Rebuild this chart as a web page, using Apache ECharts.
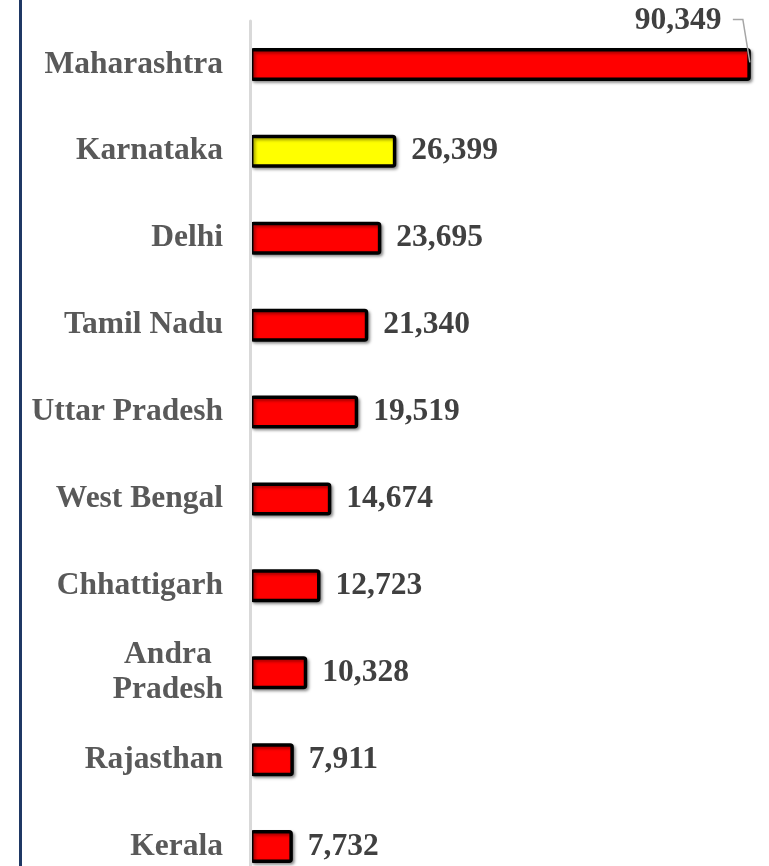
<!DOCTYPE html>
<html>
<head>
<meta charset="utf-8">
<script src="https://cdn.jsdelivr.net/npm/echarts@6/dist/echarts.min.js"></script>
<style>
html,body{margin:0;padding:0;background:#fff;overflow:hidden;}
#chart{width:769px;height:866px;}
</style>
</head>
<body>
<div id="chart"></div>
<script>
const categories = ['Maharashtra','Karnataka','Delhi','Tamil Nadu','Uttar Pradesh','West Bengal','Chhattigarh','Andra Pradesh','Rajasthan','Kerala'];
const values = [90349, 26399, 23695, 21340, 19519, 14674, 12723, 10328, 7911, 7732];
const barColors = ['#FF0000','#FFFF00','#FF0000','#FF0000','#FF0000','#FF0000','#FF0000','#FF0000','#FF0000','#FF0000'];

const FONT = 'Liberation Serif';
const FS = 31.5;
const chart = echarts.init(document.getElementById('chart'));

chart.setOption({
  animation: false,
  backgroundColor: '#ffffff',
  grid: { left: 250, right: 9, top: 21, height: 869, containLabel: false, outerBoundsMode: 'none' },
  xAxis: {
    type: 'value', min: 0, max: 92000, show: false
  },
  yAxis: {
    type: 'category', data: categories, inverse: true, z: 5,
    axisLine: { show: true, lineStyle: { color: '#D9D9D9', width: 3 } },
    axisTick: { show: false },
    axisLabel: {
      margin: 27,
      color: '#595959', fontFamily: FONT, fontWeight: 'bold', fontSize: FS,
      lineHeight: 35,
      formatter: function (v) {
        if (v === 'Andra Pradesh') return '{c|Andra}\n{c|Pradesh}';
        return v;
      },
      rich: { c: { align: 'center', color: '#595959', fontFamily: FONT, fontWeight: 'bold', fontSize: FS, lineHeight: 35 } }
    },
    splitLine: { show: false }
  },
  series: [{
    type: 'bar',
    barWidth: 33,
    data: values.map((v, i) => ({ value: v, itemStyle: { color: barColors[i] } })),
    itemStyle: {
      borderColor: '#000000', borderWidth: 3.5, borderRadius: 2,
      shadowColor: 'rgba(0,0,0,0.35)', shadowBlur: 3, shadowOffsetX: 2, shadowOffsetY: 2
    },
    label: {
      show: true, position: 'right', distance: 15,
      color: '#404040', fontFamily: FONT, fontWeight: 'bold', fontSize: FS,
      formatter: p => p.value.toLocaleString('en-US')
    },
    labelLayout: function (params) {
      if (params.dataIndex === 0) return { dx: -131, dy: -44 };
      return {};
    }
  }]
});

// Decorations: frame line at the left and the callout leader for the first bar
const end = chart.convertToPixel({ seriesIndex: 0 }, [values[0], 0]);
chart.setOption({
  graphic: [{
    type: 'line', z: 10,
    shape: { x1: 20.5, y1: 0, x2: 20.5, y2: 866 },
    style: { stroke: '#1F3864', lineWidth: 3 }
  }, {
    type: 'polyline', z: 10,
    shape: { points: [[end[0] - 18, end[1] - 45], [end[0] - 8, end[1] - 45], [end[0] - 1, end[1] - 2]] },
    style: { stroke: '#A6A6A6', lineWidth: 1.5, fill: null }
  }]
});
</script>
</body>
</html>
